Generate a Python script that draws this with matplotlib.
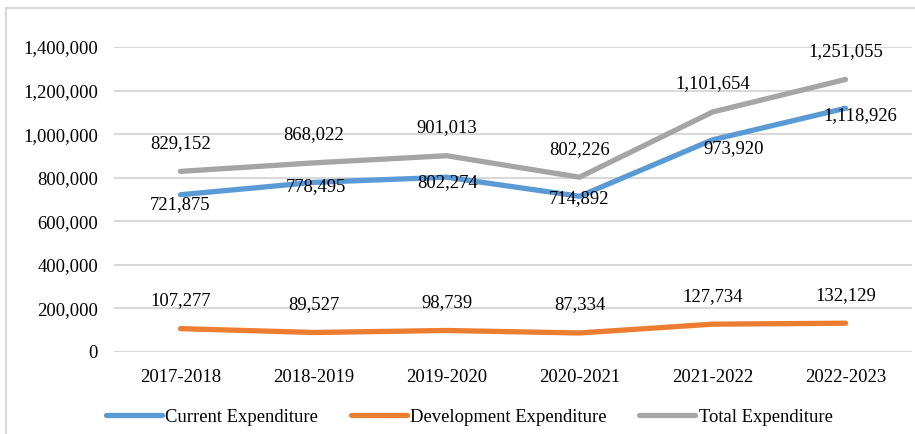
import matplotlib
matplotlib.use("Agg")
import matplotlib.pyplot as plt
from matplotlib.patches import Rectangle
from matplotlib.ticker import FuncFormatter

plt.rcParams['font.family'] = ['Liberation Serif', 'DejaVu Serif']

years = ["2017-2018", "2018-2019", "2019-2020", "2020-2021", "2021-2022", "2022-2023"]
current = [721875, 778495, 802274, 714892, 973920, 1118926]
development = [107277, 89527, 98739, 87334, 127734, 132129]
total = [829152, 868022, 901013, 802226, 1101654, 1251055]

W, H = 915, 434
fig = plt.figure(figsize=(W / 100, H / 100), dpi=100)
ax = fig.add_axes([114 / W, (H - 352) / H, (912 - 114) / W, (352 - 47) / H])

blue, orange, gray = "#5B9BD5", "#ED7D31", "#A5A5A5"
x = list(range(len(years)))
lw = 3.8
ax.plot(x, current, color=blue, lw=lw, solid_capstyle='round', solid_joinstyle='round', label="Current Expenditure", zorder=3)
ax.plot(x, development, color=orange, lw=lw, solid_capstyle='round', solid_joinstyle='round', label="Development Expenditure", zorder=3)
ax.plot(x, total, color=gray, lw=lw, solid_capstyle='round', solid_joinstyle='round', label="Total Expenditure", zorder=3)

fs = 13.4
# label offsets in pixels (dx, dy) -- dy positive = up
cur_off = [(0, -10), (2, -4), (1, -5), (-1, -2), (21, -9), (15, -7)]
for i, v in enumerate(current):
    ax.annotate(f"{v:,}", (i, v), xytext=(cur_off[i][0] * 0.72, cur_off[i][1] * 0.72),
                textcoords='offset points', ha='center', va='center', fontsize=fs, zorder=4)
for i, v in enumerate(total):
    ax.annotate(f"{v:,}", (i, v), xytext=(0, 28 * 0.72), textcoords='offset points',
                ha='center', va='center', fontsize=fs, zorder=4)
for i, v in enumerate(development):
    ax.annotate(f"{v:,}", (i, v), xytext=(0, 28 * 0.72), textcoords='offset points',
                ha='center', va='center', fontsize=fs, zorder=4)

ax.set_xlim(-0.5, 5.5)
ax.set_ylim(0, 1400000)
ax.set_yticks(range(0, 1400001, 200000))
ax.yaxis.set_major_formatter(FuncFormatter(lambda v, p: f"{int(v):,}"))
ax.set_xticks(x)
ax.set_xticklabels(years)
ax.tick_params(axis='both', length=0, labelsize=fs)
ax.tick_params(axis='y', pad=11.5)
ax.tick_params(axis='x', pad=12)
ax.grid(axis='y', color="#D9D9D9", lw=1.5, zorder=0)
for s in ax.spines.values():
    s.set_visible(False)

leg = fig.legend(loc='center', bbox_to_anchor=(0.513, (H - 417) / H), ncol=3, frameon=False,
                 fontsize=fs, handlelength=3.0, handletextpad=0.2, columnspacing=1.75)

fig.patches.append(Rectangle((6 / W, -0.1), 1.2, (H - 8) / H + 0.1, transform=fig.transFigure,
                             fill=False, edgecolor="#D9D9D9", lw=1.5))

fig.savefig("out.png", dpi=100)
